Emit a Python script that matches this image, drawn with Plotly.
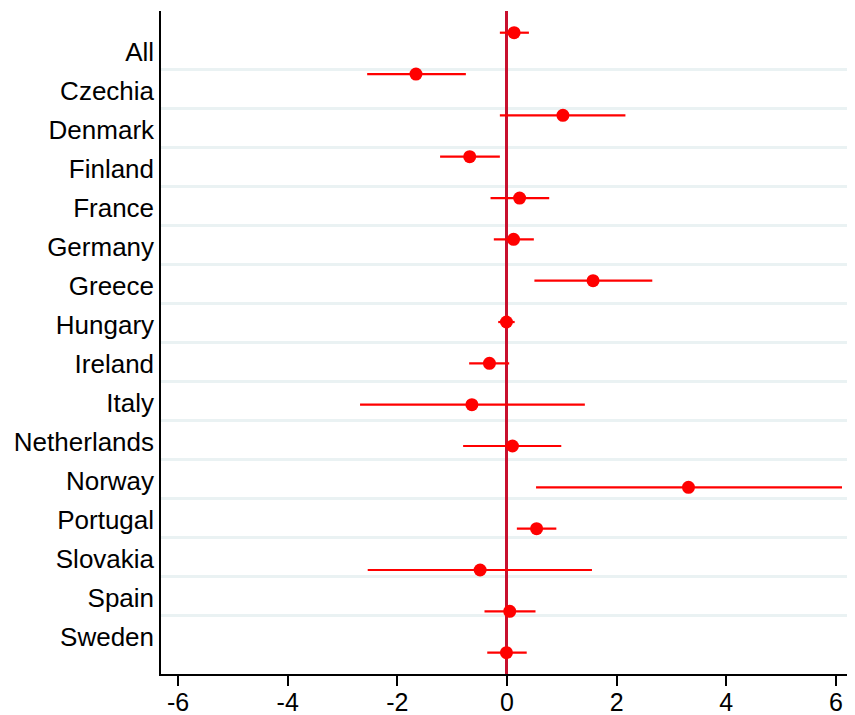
import plotly.graph_objects as go

# ---- data ----
countries = ["All", "Czechia", "Denmark", "Finland", "France", "Germany", "Greece",
             "Hungary", "Ireland", "Italy", "Netherlands", "Norway", "Portugal",
             "Slovakia", "Spain", "Sweden"]
estimate = [0.13, -1.66, 1.02, -0.68, 0.23, 0.12, 1.57, -0.01, -0.32, -0.64,
            0.10, 3.31, 0.54, -0.49, 0.05, -0.01]
ci_low = [-0.13, -2.55, -0.13, -1.22, -0.30, -0.24, 0.50, -0.16, -0.69, -2.68,
          -0.80, 0.53, 0.18, -2.54, -0.41, -0.36]
ci_high = [0.40, -0.75, 2.16, -0.13, 0.77, 0.49, 2.65, 0.14, 0.04, 1.42,
           0.99, 6.11, 0.90, 1.55, 0.52, 0.36]
x_tick_vals = [-6, -4, -2, 0, 2, 4, 6]
x_tick_text = ["-6", "-4", "-2", "0", "2", "4", "6"]

err_plus = [h - e for h, e in zip(ci_high, estimate)]
err_minus = [e - l for e, l in zip(estimate, ci_low)]

FONT = "Liberation Sans, Arial, Helvetica, sans-serif"
RED = "#ff0000"

n = len(countries)
label_pos = list(range(n))
grid_pos = [i + 0.45 for i in range(n - 1)]

fig = go.Figure()
# invisible trace that carries the label axis
fig.add_trace(go.Scatter(
    x=estimate, y=label_pos, mode="markers", marker=dict(opacity=0),
    xaxis="x", yaxis="y", showlegend=False, hoverinfo="skip",
))
# estimates with confidence intervals
fig.add_trace(go.Scatter(
    x=estimate, y=countries, mode="markers",
    marker=dict(color=RED, size=13),
    error_x=dict(type="data", symmetric=False, array=err_plus, arrayminus=err_minus,
                 color=RED, thickness=2.2, width=0),
    xaxis="x", yaxis="y2", showlegend=False, hoverinfo="skip",
))

fig.update_layout(
    width=847, height=707,
    margin=dict(l=153, r=0, t=3, b=41, autoexpand=False),
    plot_bgcolor="white", paper_bgcolor="white",
    font=dict(family=FONT, color="black", size=26),
    xaxis=dict(
        range=[-6.31, 6.347], tickvals=x_tick_vals, ticktext=x_tick_text,
        ticks="outside", ticklen=10, tickwidth=1.5, tickcolor="black",
        ticklabelstandoff=-5,
        showline=True, linecolor="black", linewidth=1.5, automargin=False,
        showgrid=False, zeroline=True, zerolinecolor="#c8102e", zerolinewidth=2.5,
        tickfont=dict(size=25, family=FONT, color="black"),
    ),
    yaxis=dict(
        range=[15.94, -1.04], tickvals=label_pos, ticktext=countries,
        ticks="", showgrid=False, zeroline=False, automargin=False,
        showline=True, linecolor="black", linewidth=1.5,
        tickfont=dict(size=26, family=FONT, color="black"),
        minor=dict(tickmode="array", tickvals=grid_pos, showgrid=True,
                   gridcolor="#eaf2f3", gridwidth=2.5, ticks=""),
    ),
    yaxis2=dict(
        overlaying="y", anchor="x", side="left", automargin=False,
        type="category", categoryorder="array", categoryarray=countries,
        range=[15.516, -0.525], visible=False, showgrid=False, zeroline=False,
    ),
)

fig.write_html("out.html")
